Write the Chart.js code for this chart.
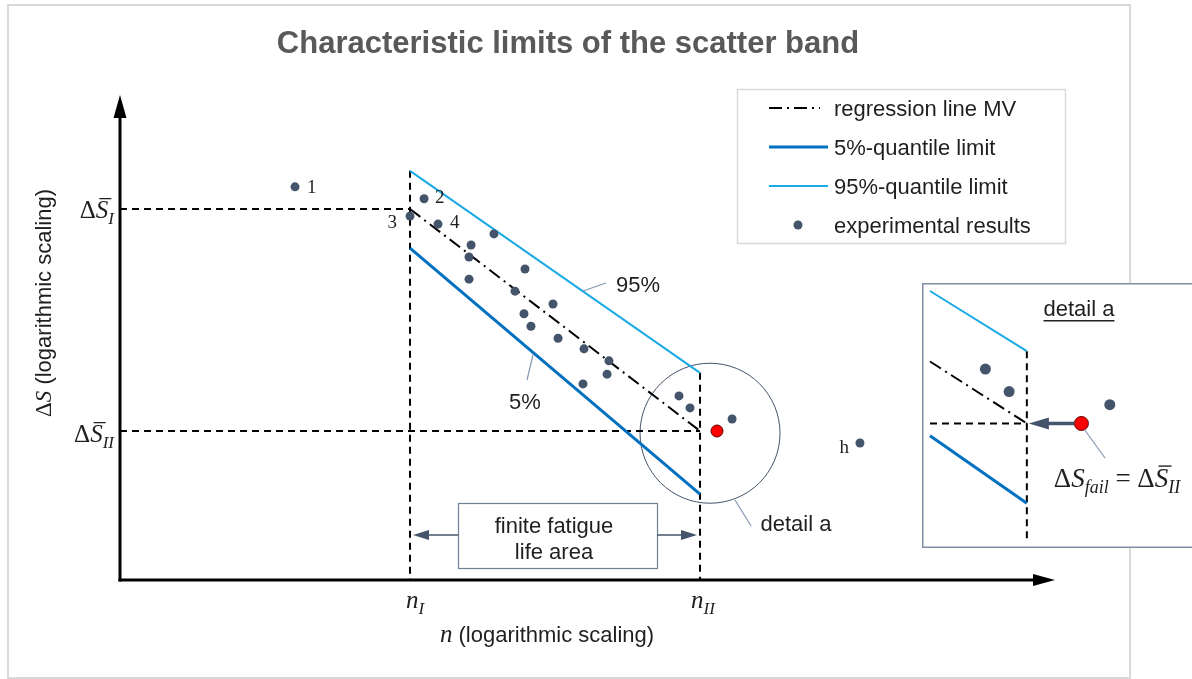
<!DOCTYPE html>
<html>
<head>
<meta charset="utf-8">
<script src="https://cdn.jsdelivr.net/npm/chart.js@4.4.0/dist/chart.umd.min.js"></script>
<style>
  html, body { margin: 0; padding: 0; background: #fff; }
  #wrap { position: relative; width: 1192px; height: 679px; overflow: hidden; }
  #main { position: absolute; left: 0; top: 0; }
  #inset { position: absolute; left: 922px; top: 283px; }
</style>
</head>
<body>
<div id="wrap">
  <canvas id="main" width="1192" height="679"></canvas>
  <canvas id="inset" width="270" height="265"></canvas>
</div>
<script>
// values in log10 units (n = cycles, S = stress range)
const testN = [3.207, 4.097, 4.000, 4.193, 4.579, 4.421, 4.407, 4.407, 4.793, 4.724, 4.986, 4.786, 4.834, 5.021, 5.200, 5.372, 5.359, 5.193, 5.855, 5.931, 6.221, 7.103];
const testS = [2.550, 2.523, 2.484, 2.466, 2.444, 2.419, 2.392, 2.342, 2.365, 2.315, 2.286, 2.264, 2.236, 2.209, 2.185, 2.158, 2.128, 2.106, 2.079, 2.052, 2.027, 1.973];
const testTags = ['1', '2', '3', '4', '', '', '', '', '', '', '', '', '', '', '', '', '', '', '', '', '', 'h'];
const failN = 6.117;
const failS = 2.0;

const limitN = [4, 6];          // n_I, n_II
const meanS = [2.5, 2.0];       // regression line at n_I, n_II  (= ΔS_I, ΔS_II)
const q95S = [2.586, 2.131];
const q05S = [2.412, 1.858];
const detailCircle = { n: 6.069, s: 1.995 };

// detail a (zoomed)
const detN = [5.848, 5.935, 6.304];
const detS = [2.087, 2.051, 2.030];
const detFailN = 6.200;
const detLineN = [5.645, 6];
const detMeanS = [2.099, 2.0];
const det95S = [2.2117, 2.1156];
const det05S = [1.9805, 1.8724];

const xMin = 2, xMax = 8.448, yMin = 1.6644, yMax = 2.7568;
const dxMin = 5.645, dxMax = 6.576, dyMin = 1.8138, dyMax = 2.2117;

const C_DOT = '#44546a';
const C_Q05 = '#0070c0';
const C_Q95 = '#1aaae6';
const C_TXT = '#1f1f1f';
const SANS = '"Liberation Sans", Arial, sans-serif';
const SERIF = '"Liberation Serif", "Times New Roman", serif';

const pts = (xs, ys) => xs.map((x, i) => ({ x, y: ys[i] }));

function arrow(ctx, x1, y1, x2, y2, color, w, len, half) {
  const a = Math.atan2(y2 - y1, x2 - x1);
  ctx.save();
  ctx.strokeStyle = color; ctx.fillStyle = color; ctx.lineWidth = w; ctx.setLineDash([]);
  ctx.beginPath();
  ctx.moveTo(x1, y1);
  ctx.lineTo(x2 - Math.cos(a) * len * 0.8, y2 - Math.sin(a) * len * 0.8);
  ctx.stroke();
  ctx.beginPath();
  ctx.moveTo(x2, y2);
  ctx.lineTo(x2 - len * Math.cos(a) + half * Math.sin(a), y2 - len * Math.sin(a) - half * Math.cos(a));
  ctx.lineTo(x2 - len * Math.cos(a) - half * Math.sin(a), y2 - len * Math.sin(a) + half * Math.cos(a));
  ctx.closePath();
  ctx.fill();
  ctx.restore();
}

function line(ctx, x1, y1, x2, y2, color, w) {
  ctx.save();
  ctx.strokeStyle = color; ctx.lineWidth = w;
  ctx.beginPath(); ctx.moveTo(x1, y1); ctx.lineTo(x2, y2); ctx.stroke();
  ctx.restore();
}

// parts: {t, s} with s = 'r' upright, 'i' italic, 'bar' italic + overbar, 'sub' italic subscript, 'sans' plain sans
function mathText(ctx, parts, x, y, size, align) {
  const subSize = Math.round(size * 0.66);
  const fontOf = p => p.s === 'r' ? `${size}px ${SERIF}`
    : p.s === 'sub' ? `italic ${subSize}px ${SERIF}`
    : p.s === 'sans' ? `${p.size || size}px ${SANS}`
    : `italic ${size}px ${SERIF}`;
  let total = 0;
  parts.forEach(p => { ctx.font = fontOf(p); p.w = ctx.measureText(p.t).width; total += p.w; });
  let cx = align === 'right' ? x - total : align === 'center' ? x - total / 2 : x;
  ctx.textAlign = 'left';
  ctx.textBaseline = 'alphabetic';
  parts.forEach(p => {
    ctx.font = fontOf(p);
    ctx.fillText(p.t, cx, p.s === 'sub' ? y + size * 0.22 : y);
    if (p.s === 'bar') ctx.fillRect(cx + size * 0.14, y - size * 0.8, p.w - size * 0.02, Math.max(1, size * 0.05));
    cx += p.w;
  });
}

const mainDecor = {
  id: 'mainDecor',
  beforeDraw(chart) {
    const ctx = chart.ctx;
    ctx.save();
    ctx.fillStyle = '#fff';
    ctx.fillRect(0, 0, chart.width, chart.height);
    ctx.strokeStyle = '#d9d9d9';
    ctx.lineWidth = 2;
    ctx.strokeRect(8, 5, 1122, 673);
    ctx.restore();
  },
  afterDatasetsDraw(chart) {
    const ctx = chart.ctx;
    const X = v => chart.scales.x.getPixelForValue(v);
    const Y = v => chart.scales.y.getPixelForValue(v);
    const ox = X(xMin), oy = Y(yMin);
    const { top, right } = chart.chartArea;

    // axes with arrow heads
    arrow(ctx, ox, oy + 1.5, ox, top, '#000', 3, 23, 6.5);
    arrow(ctx, ox - 1.5, oy, right, oy, '#000', 3, 22, 6);

    ctx.save();
    ctx.fillStyle = '#595959';
    ctx.font = `bold 31px ${SANS}`;
    ctx.textAlign = 'center';
    ctx.textBaseline = 'alphabetic';
    ctx.fillText('Characteristic limits of the scatter band', 568, 53);

    // axis level labels
    ctx.fillStyle = C_TXT;
    mathText(ctx, [{ t: 'Δ', s: 'r' }, { t: 'S', s: 'bar' }, { t: 'I', s: 'sub' }], ox - 6, Y(meanS[0]) + 9, 25, 'right');
    mathText(ctx, [{ t: 'Δ', s: 'r' }, { t: 'S', s: 'bar' }, { t: 'II', s: 'sub' }], ox - 6, Y(meanS[1]) + 11, 25, 'right');
    mathText(ctx, [{ t: 'n', s: 'i' }, { t: 'I', s: 'sub' }], X(limitN[0]) + 5, oy + 28, 25, 'center');
    mathText(ctx, [{ t: 'n', s: 'i' }, { t: 'II', s: 'sub' }], X(limitN[1]) + 3, oy + 28, 25, 'center');
    mathText(ctx, [{ t: 'n', s: 'i' }, { t: ' (logarithmic scaling)', s: 'sans', size: 22 }], 547, oy + 62, 25, 'center');

    ctx.save();
    ctx.translate(44, 303);
    ctx.rotate(-Math.PI / 2);
    mathText(ctx, [{ t: 'Δ', s: 'r' }, { t: 'S', s: 'i' }, { t: ' (logarithmic scaling)', s: 'sans', size: 22 }], 0, 7, 23, 'center');
    ctx.restore();

    // numbered specimens
    const tagOff = { '1': [12, 6, 'left'], '2': [11, 4, 'left'], '3': [-13, 12, 'right'], '4': [12, 4, 'left'], 'h': [-11, 10, 'right'] };
    ctx.font = `19px ${SERIF}`;
    testTags.forEach((t, i) => {
      if (!t) return;
      const o = tagOff[t];
      ctx.textAlign = o[2];
      ctx.fillText(t, X(testN[i]) + o[0], Y(testS[i]) + o[1]);
    });

    // quantile callouts
    ctx.font = `22px ${SANS}`;
    ctx.textAlign = 'center';
    line(ctx, 583, 291, 606, 283, '#8497b0', 1.2);
    ctx.fillText('95%', 638, 292);
    line(ctx, 533, 355, 527, 380, '#8497b0', 1.2);
    ctx.fillText('5%', 525, 409);
    line(ctx, 735, 500, 751, 526, '#8497b0', 1.2);
    ctx.fillText('detail a', 796, 531);

    // finite fatigue life area
    ctx.strokeStyle = '#6f7f96';
    ctx.lineWidth = 1.2;
    ctx.strokeRect(458.5, 503.5, 199, 65);
    ctx.fillText('finite fatigue', 554, 533);
    ctx.fillText('life area', 554, 559);
    arrow(ctx, 458, 535, X(limitN[0]) + 3, 535, C_DOT, 1.5, 16, 5);
    arrow(ctx, 657, 535, X(limitN[1]) - 3, 535, C_DOT, 1.5, 16, 5);

    // legend
    ctx.strokeStyle = '#d9d9d9';
    ctx.lineWidth = 1.5;
    ctx.strokeRect(737.5, 89.5, 328, 154);
    const legendRows = ['regression line MV', '5%-quantile limit', '95%-quantile limit', 'experimental results'];
    ctx.textAlign = 'left';
    legendRows.forEach((lab, i) => {
      const ds = chart.data.datasets.find(d => d.label === lab);
      const y = 108 + i * 39;
      if (ds.showLine) {
        ctx.save();
        ctx.strokeStyle = ds.borderColor;
        ctx.lineWidth = ds.borderWidth;
        ctx.setLineDash(ds.borderDash || []);
        ctx.beginPath(); ctx.moveTo(769, y); ctx.lineTo(lab.startsWith('regression') ? 820 : 828, y); ctx.stroke();
        ctx.restore();
      } else {
        ctx.beginPath();
        ctx.fillStyle = ds.backgroundColor;
        ctx.arc(798, y, ds.pointRadius, 0, Math.PI * 2);
        ctx.fill();
      }
      ctx.fillStyle = C_TXT;
      ctx.fillText(lab, 834, y + 8);
    });
    ctx.restore();
  }
};

const dashed = { borderColor: '#000', borderWidth: 2, borderDash: [7, 5], pointRadius: 0, showLine: true };

new Chart(document.getElementById('main'), {
  type: 'scatter',
  data: {
    datasets: [
      { label: 'failure', data: [{ x: failN, y: failS }], pointRadius: 6, backgroundColor: '#ff0000', borderColor: '#600000', borderWidth: 1 },
      { label: 'experimental results', data: pts(testN, testS), pointRadius: 4.5, backgroundColor: C_DOT, borderWidth: 0 },
      { label: 'regression line MV', data: pts(limitN, meanS), showLine: true, borderColor: '#000', borderWidth: 2, borderDash: [13, 5, 2, 5], pointRadius: 0 },
      { label: '5%-quantile limit', data: pts(limitN, q05S), showLine: true, borderColor: C_Q05, borderWidth: 3, pointRadius: 0 },
      { label: '95%-quantile limit', data: pts(limitN, q95S), showLine: true, borderColor: C_Q95, borderWidth: 2, pointRadius: 0 },
      { label: 'S_I', data: [{ x: xMin, y: meanS[0] }, { x: limitN[0], y: meanS[0] }], ...dashed },
      { label: 'S_II', data: [{ x: xMin, y: meanS[1] }, { x: limitN[1], y: meanS[1] }], ...dashed },
      { label: 'n_I', data: [{ x: limitN[0], y: q95S[0] }, { x: limitN[0], y: yMin }], ...dashed },
      { label: 'n_II', data: [{ x: limitN[1], y: q95S[1] }, { x: limitN[1], y: yMin }], ...dashed },
      { label: 'detail a', data: [detailCircle].map(c => ({ x: c.n, y: c.s })), pointRadius: 70, backgroundColor: 'rgba(0,0,0,0)', borderColor: C_DOT, borderWidth: 1 }
    ].map(d => ({ clip: false, ...d }))
  },
  options: {
    responsive: false,
    animation: false,
    devicePixelRatio: 1,
    layout: { padding: { left: 120, right: 137, top: 95, bottom: 99 } },
    plugins: { legend: { display: false }, tooltip: { enabled: false } },
    scales: {
      x: { type: 'linear', min: xMin, max: xMax, display: false },
      y: { type: 'linear', min: yMin, max: yMax, display: false }
    }
  },
  plugins: [mainDecor]
});

const insetDecor = {
  id: 'insetDecor',
  beforeDraw(chart) {
    const ctx = chart.ctx;
    ctx.save();
    ctx.fillStyle = '#fff';
    ctx.fillRect(0, 0, chart.width, chart.height);
    ctx.restore();
  },
  afterDatasetsDraw(chart) {
    const ctx = chart.ctx;
    const X = v => chart.scales.x.getPixelForValue(v);
    const Y = v => chart.scales.y.getPixelForValue(v);
    ctx.save();
    ctx.strokeStyle = '#7f8ea3';
    ctx.lineWidth = 1.5;
    ctx.beginPath();
    ctx.moveTo(chart.width + 5, 0.75); ctx.lineTo(0.75, 0.75); ctx.lineTo(0.75, chart.height - 0.75); ctx.lineTo(chart.width + 5, chart.height - 0.75);
    ctx.stroke();

    ctx.fillStyle = C_TXT;
    ctx.font = `22px ${SANS}`;
    ctx.textAlign = 'center';
    ctx.textBaseline = 'alphabetic';
    ctx.fillText('detail a', 157, 33);
    const w = ctx.measureText('detail a').width;
    ctx.fillRect(157 - w / 2, 37, w, 1.5);

    arrow(ctx, X(detFailN) - 7, Y(failS), X(limitN[1]) + 2, Y(failS), C_DOT, 3.5, 20, 6);
    line(ctx, X(detFailN) + 3, Y(failS) + 6, 183, 175, '#8497b0', 1.2);
    mathText(ctx, [{ t: 'Δ', s: 'r' }, { t: 'S', s: 'i' }, { t: 'fail', s: 'sub' }, { t: ' = Δ', s: 'r' }, { t: 'S', s: 'bar' }, { t: 'II', s: 'sub' }], 195, 204, 27, 'center');
    ctx.restore();
  }
};

new Chart(document.getElementById('inset'), {
  type: 'scatter',
  data: {
    datasets: [
      { label: 'failure', data: [{ x: detFailN, y: failS }], pointRadius: 7, backgroundColor: '#ff0000', borderColor: '#600000', borderWidth: 1 },
      { label: 'experimental results', data: pts(detN, detS), pointRadius: 5.5, backgroundColor: C_DOT, borderWidth: 0 },
      { label: 'regression line MV', data: pts(detLineN, detMeanS), showLine: true, borderColor: '#000', borderWidth: 2, borderDash: [13, 5, 2, 5], pointRadius: 0 },
      { label: '5%-quantile limit', data: pts(detLineN, det05S), showLine: true, borderColor: C_Q05, borderWidth: 3, pointRadius: 0 },
      { label: '95%-quantile limit', data: pts(detLineN, det95S), showLine: true, borderColor: C_Q95, borderWidth: 2, pointRadius: 0 },
      { label: 'S_II', data: [{ x: dxMin, y: failS }, { x: limitN[1], y: failS }], ...dashed },
      { label: 'n_II', data: [{ x: limitN[1], y: det95S[1] }, { x: limitN[1], y: dyMin }], ...dashed }
    ].map(d => ({ clip: false, ...d }))
  },
  options: {
    responsive: false,
    animation: false,
    devicePixelRatio: 1,
    layout: { padding: 0 },
    plugins: { legend: { display: false }, tooltip: { enabled: false } },
    scales: {
      x: { type: 'linear', min: dxMin, max: dxMax, display: false },
      y: { type: 'linear', min: dyMin, max: dyMax, display: false }
    }
  },
  plugins: [insetDecor]
});
</script>
</body>
</html>
